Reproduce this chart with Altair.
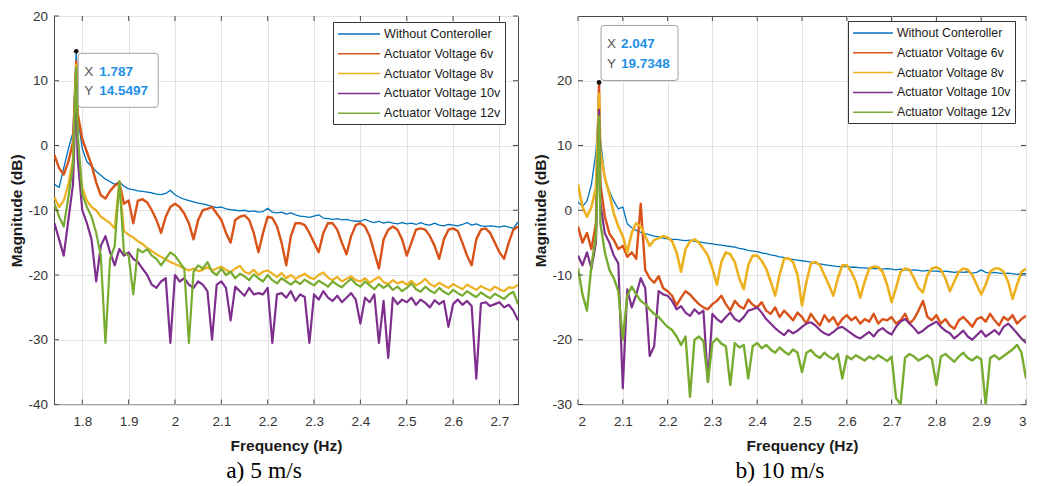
import altair as alt
import pandas as pd

SERIES = ["Without Conteroller", "Actuator Voltage 6v", "Actuator Voltage 8v",
          "Actuator Voltage 10v", "Actuator Voltage 12v"]
COLORS = ["#0072BD", "#D95319", "#EDB120", "#7E2F8E", "#77AC30"]

# ---------------- panel a) 5 m/s ----------------
freq_a = [1.74, 1.75, 1.76, 1.77, 1.78, 1.787,
          1.79, 1.80, 1.81, 1.82, 1.83, 1.84, 1.85, 1.86, 1.87, 1.88, 1.89,
          1.90, 1.91, 1.92, 1.93, 1.94, 1.95, 1.96, 1.97, 1.98, 1.99,
          2.00, 2.01, 2.02, 2.03, 2.04, 2.05, 2.06, 2.07, 2.08, 2.09,
          2.10, 2.11, 2.12, 2.13, 2.14, 2.15, 2.16, 2.17, 2.18, 2.19,
          2.20, 2.21, 2.22, 2.23, 2.24, 2.25, 2.26, 2.27, 2.28, 2.29,
          2.30, 2.31, 2.32, 2.33, 2.34, 2.35, 2.36, 2.37, 2.38, 2.39,
          2.40, 2.41, 2.42, 2.43, 2.44, 2.45, 2.46, 2.47, 2.48, 2.49,
          2.50, 2.51, 2.52, 2.53, 2.54, 2.55, 2.56, 2.57, 2.58, 2.59,
          2.60, 2.61, 2.62, 2.63, 2.64, 2.65, 2.66, 2.67, 2.68, 2.69,
          2.70, 2.71, 2.72, 2.73, 2.74]

without_a = [-6.0, -6.5, -3.5, -0.5, 2.0, 14.5497,
             4.5, -0.5, -2.5, -3.2, -4.0, -4.6, -5.2, -5.6, -6.0, -5.6, -6.3,
             -6.7, -6.8, -7.0, -7.1, -7.2, -7.3, -7.5, -7.6, -7.4, -6.9,
             -7.6, -8.0, -8.3, -8.5, -8.7, -8.9, -9.0, -9.2, -9.4, -9.6,
             -9.5, -9.8, -9.9, -10.0, -10.1, -10.0, -10.2, -10.1, -10.3, -10.2,
             -9.7, -10.3, -10.4, -10.3, -10.6, -10.4, -10.7, -10.9, -11.0, -11.1,
             -10.9, -10.7, -11.2, -11.3, -11.4, -11.3, -11.5, -11.4, -11.6, -11.7,
             -11.7, -11.4, -11.7, -11.9, -11.7, -12.0, -11.8, -12.0, -12.1, -11.9,
             -12.1, -12.0, -12.2, -11.9, -12.2, -12.3, -12.0, -12.3, -12.4, -12.2,
             -12.3, -12.4, -12.2, -11.9, -12.3, -12.1, -12.4, -12.5, -12.4, -12.5,
             -12.6, -12.4, -12.6, -12.8, -11.8]

v6_a = [-1.5, -3.5, -4.5, -2.5, 0.5, 13.0,
        5.0, 1.0, -1.0, -3.0, -5.7, -7.7, -8.2, -7.0, -6.2, -5.7, -9.0,
        -8.5, -12.0, -8.5, -8.3, -8.8, -10.0, -11.5, -13.5, -11.0, -9.5,
        -9.0, -9.5, -10.5, -12.0, -14.5, -11.5, -10.0, -9.8, -9.5, -10.5,
        -11.5, -13.5, -15.0, -11.5, -11.0, -10.8, -11.5, -13.5, -16.5, -13.5,
        -11.0, -11.2, -12.5, -15.0, -18.5, -14.0, -12.0, -12.0, -12.3, -13.5,
        -15.0, -16.5, -13.5, -12.0, -12.0, -13.0, -15.0, -16.8, -14.0, -12.3,
        -12.0, -12.5, -14.0, -16.5, -19.0, -14.5, -13.0, -12.5, -13.0, -14.5,
        -17.0, -15.0, -13.0, -12.8, -13.0, -14.0, -15.5, -17.5, -14.5, -13.0,
        -12.8, -13.2, -15.0, -17.0, -18.5, -14.5, -13.0, -12.8, -13.5, -15.0,
        -16.5, -17.5, -15.0, -13.0, -12.5]

v8_a = [-8.0, -9.5, -8.5, -6.0, -2.0, 12.5,
        0.0, -6.5, -8.5, -9.5, -10.0, -11.0, -11.5, -12.0, -12.8, -5.5, -13.2,
        -13.8, -14.2, -14.8, -15.2, -15.8, -16.3, -16.8, -17.2, -17.6, -18.0,
        -18.3, -18.6, -19.0, -19.3, -19.0, -19.4, -19.2, -18.8, -19.3, -19.0,
        -18.7, -19.2, -19.6, -19.0, -18.6, -19.5, -19.8, -19.2, -20.0, -19.5,
        -19.3, -19.8, -20.3, -19.7, -20.5, -20.0, -20.6, -20.2, -19.8, -20.4,
        -20.6, -20.0, -19.6, -20.4, -20.8, -20.3, -21.0, -20.6, -20.2, -20.8,
        -21.0, -20.5, -21.2, -20.7, -20.3, -21.1, -21.4, -20.8, -21.3, -21.0,
        -21.5, -20.9, -21.6, -21.2, -20.6, -21.4, -21.8, -21.2, -21.6, -22.0,
        -21.4, -21.8, -22.2, -21.5, -21.9, -22.3, -21.7, -22.1, -22.4, -21.8,
        -22.2, -22.5, -21.9, -22.0, -21.5]

v10_a = [-12.0, -14.5, -17.0, -11.5, -6.0, 9.5,
         -2.0, -10.0, -12.0, -14.5, -21.0, -15.5, -14.0, -16.5, -18.5, -16.0, -17.0,
         -16.5, -17.5, -18.0, -19.0, -20.0, -21.5, -22.0, -21.0, -20.5, -30.5,
         -20.0, -21.0, -20.5, -21.5, -22.0, -21.0, -21.5, -22.5, -30.0, -21.5,
         -21.0, -22.0, -27.0, -21.8, -22.5, -23.2, -22.0, -23.0, -22.8, -23.0,
         -22.0, -30.5, -23.0, -22.8, -23.5, -22.5, -24.0, -23.0, -23.4, -30.5,
         -23.0, -23.8, -22.5, -23.5, -24.0, -23.2, -24.2, -23.5, -22.8, -23.8,
         -27.5, -23.5, -24.2, -23.0, -30.5, -24.0, -32.8, -23.5, -24.5, -23.8,
         -24.2, -23.5, -24.6, -23.8, -24.3, -25.0, -23.9, -24.5, -24.0, -28.0,
         -24.5, -23.8, -24.6, -24.0, -24.8, -36.0, -24.4, -24.2, -24.8, -24.5,
         -24.2, -25.0, -24.6, -25.5, -27.0]

v12_a = [-9.0, -11.0, -12.5, -8.0, -3.0, 12.0,
         2.0, -7.5, -9.5, -11.0, -13.5, -17.0, -30.5, -17.5, -15.5, -5.5, -16.5,
         -17.0, -23.0, -16.0, -16.5, -16.0, -17.0, -17.5, -18.5, -17.5, -16.5,
         -17.0, -18.0, -19.0, -30.5, -19.5, -18.5, -19.0, -18.0, -19.5, -20.0,
         -19.0, -20.0, -19.5, -20.5, -19.8, -20.2, -20.8, -19.9, -20.5, -21.0,
         -20.0, -20.8, -21.3, -20.5, -21.0, -21.5, -20.9, -21.4, -20.7, -21.2,
         -21.6, -20.9, -21.3, -21.8, -21.0, -21.5, -21.9, -21.2, -20.6, -21.4,
         -21.8, -21.0, -21.6, -22.2, -21.4, -22.0, -21.5, -22.3, -21.8, -22.5,
         -22.0, -21.3, -22.2, -22.6, -21.8, -22.4, -22.8, -22.0, -22.6, -23.0,
         -22.3, -22.8, -23.2, -22.5, -23.0, -23.4, -22.7, -23.2, -23.6, -22.9,
         -23.3, -23.7, -23.0, -22.6, -24.5]

# ---------------- panel b) 10 m/s ----------------
freq_b = [2.00, 2.01, 2.02, 2.03, 2.04, 2.047,
          2.05, 2.06, 2.07, 2.08, 2.09,
          2.10, 2.11, 2.12, 2.13, 2.14, 2.15, 2.16, 2.17, 2.18, 2.19,
          2.20, 2.21, 2.22, 2.23, 2.24, 2.25, 2.26, 2.27, 2.28, 2.29,
          2.30, 2.31, 2.32, 2.33, 2.34, 2.35, 2.36, 2.37, 2.38, 2.39,
          2.40, 2.41, 2.42, 2.43, 2.44, 2.45, 2.46, 2.47, 2.48, 2.49,
          2.50, 2.51, 2.52, 2.53, 2.54, 2.55, 2.56, 2.57, 2.58, 2.59,
          2.60, 2.61, 2.62, 2.63, 2.64, 2.65, 2.66, 2.67, 2.68, 2.69,
          2.70, 2.71, 2.72, 2.73, 2.74, 2.75, 2.76, 2.77, 2.78, 2.79,
          2.80, 2.81, 2.82, 2.83, 2.84, 2.85, 2.86, 2.87, 2.88, 2.89,
          2.90, 2.91, 2.92, 2.93, 2.94, 2.95, 2.96, 2.97, 2.98, 2.99,
          3.00]

without_b = [1.3, 0.6, 1.4, 4.0, 9.0, 17.0,
             11.0, 5.0, 2.9, 1.4, 0.2,
             0.5, -2.1, -2.7, -3.1, -3.4, -3.6, -3.8, -4.0, -4.1, -4.3,
             -4.4, -4.5, -4.5, -4.6, -4.7, -4.6, -4.8, -4.9, -5.0, -5.1,
             -5.2, -5.3, -5.4, -5.5, -5.6, -5.7, -5.9, -6.0, -6.2, -6.3,
             -6.4, -6.6, -6.7, -6.9, -7.0, -7.2, -7.3, -7.5, -7.6, -7.7,
             -7.8, -7.9, -8.0, -8.2, -8.3, -8.4, -8.5, -8.6, -8.7, -8.7,
             -8.7, -8.8, -8.8, -8.9, -8.9, -9.0, -9.0, -9.0, -9.1, -9.0,
             -9.1, -9.2, -9.1, -9.2, -9.3, -9.2, -9.3, -9.4, -9.3, -9.4,
             -9.4, -9.5, -9.4, -9.5, -9.6, -9.5, -9.6, -9.5, -9.7, -9.6,
             -9.2, -9.6, -9.7, -9.6, -9.7, -9.8, -9.7, -9.8, -9.9, -9.8,
             -9.8]

v6_b = [-2.5, -5.0, -3.5, -6.0, -2.0, 19.7348,
        4.0, -1.0, -3.6, -4.6, -6.0,
        -5.5, -7.2, -6.5, -7.5, 1.0, -9.2, -10.5, -11.2, -10.2, -12.0,
        -12.5, -13.2, -14.7, -13.5, -12.5, -13.0, -13.8, -14.5, -15.0, -15.3,
        -14.5, -14.0, -13.2, -14.5, -15.5, -14.0, -14.8, -15.2, -13.8, -14.6,
        -15.0, -14.2, -15.5, -16.0, -15.0, -16.5, -15.5, -16.2, -17.0, -15.8,
        -16.5, -17.5, -16.0, -17.0, -17.8, -16.2, -17.2, -16.5, -17.8, -16.8,
        -16.2, -17.0, -16.5, -17.5, -16.8, -17.2, -16.0, -17.5, -16.8, -17.0,
        -16.5, -17.5, -17.0, -16.0, -17.5, -16.8, -15.5, -14.0, -16.5, -17.0,
        -16.2, -17.5, -16.8, -17.8, -18.3, -17.0, -16.5, -17.2, -18.0, -16.8,
        -16.5, -17.2, -16.0, -17.0, -17.8, -16.5, -17.0, -16.2, -17.5, -16.8,
        -16.3]

v8_b = [4.0, 0.5, -1.0, 0.5, 3.5, 18.0,
        9.0, 5.0, 2.5, -0.5, -2.5,
        -4.0, -6.5, -3.5, -2.0, -2.5, -4.0, -5.5, -4.6, -4.3, -4.0,
        -4.2, -4.8, -6.5, -9.5, -6.0, -4.8, -4.5, -5.0, -6.0, -7.0,
        -9.0, -11.5, -8.0, -6.5, -6.8, -8.0, -10.5, -12.2, -8.5, -7.0,
        -7.0, -7.8, -9.0, -11.0, -13.2, -10.0, -7.5, -7.4, -8.0, -10.0,
        -14.7, -11.0, -8.2, -8.0, -8.5, -10.0, -11.5, -13.2, -10.5, -8.5,
        -8.5, -9.5, -11.0, -13.5, -11.0, -9.0, -8.7, -8.8, -9.5, -11.5,
        -14.2, -12.0, -9.5, -9.0, -9.2, -10.5, -12.0, -12.7, -10.0, -9.0,
        -8.8, -9.2, -10.5, -12.5, -11.0, -9.5, -9.0, -9.2, -10.0, -11.5,
        -13.0, -11.5, -9.5, -9.0, -9.0, -9.5, -11.0, -13.7, -11.5, -9.5,
        -9.0]

v10_b = [-7.0, -8.5, -6.5, -9.0, -5.0, 15.5,
         1.0, -3.6, -5.0, -7.0, -8.2,
         -27.5, -12.2, -15.0, -13.0, -10.5, -12.0, -22.5, -21.0, -12.5, -13.0,
         -13.2, -14.0, -15.3, -14.8, -15.8, -16.3, -15.3, -16.0, -15.5, -26.5,
         -16.0, -16.8, -17.3, -16.5, -15.8, -16.8, -17.2, -16.5, -15.5, -15.3,
         -15.0, -15.8, -16.8, -17.5, -18.2, -18.8, -19.3, -18.5, -19.0, -18.6,
         -18.0, -17.5, -17.3, -17.8, -18.5, -19.0, -19.3, -18.8, -18.2, -18.0,
         -18.5, -19.0, -19.5, -19.8, -19.3, -18.8, -19.5, -18.6, -18.2, -18.8,
         -19.2, -18.0, -17.2, -16.8, -17.5, -18.2, -19.0, -18.6, -18.0, -17.6,
         -17.2, -18.0, -18.6, -19.0, -19.8, -19.2, -18.6, -19.5, -20.0, -19.3,
         -18.6, -19.5, -19.0, -18.5, -19.2, -18.0, -17.5, -18.2, -19.0, -19.8,
         -20.5]

v12_b = [-9.0, -13.0, -15.5, -8.5, -4.0, 14.5,
         -2.0, -6.5, -9.2, -10.5, -12.5,
         -20.0, -13.2, -11.8, -13.0, -14.0, -14.5, -15.3, -16.0, -16.5, -17.3,
         -18.0, -18.5, -19.5, -20.8, -19.5, -28.8, -20.0, -19.5, -20.2, -26.5,
         -20.5, -19.8, -20.6, -21.0, -27.0, -20.5, -21.2, -20.8, -26.0, -21.0,
         -20.5, -21.3, -20.8, -21.5, -22.0, -21.2, -21.8, -22.3, -21.5, -22.0,
         -25.0, -22.0, -21.6, -22.4, -22.8, -22.0, -22.6, -23.0, -22.2, -26.0,
         -22.5, -23.0, -22.4, -22.8, -23.2, -22.6, -23.0, -22.4, -22.8, -23.3,
         -22.6, -29.0, -30.0, -22.8, -22.2, -22.6, -23.2, -22.8, -22.4, -23.0,
         -27.0, -22.6, -22.2, -22.8, -23.4, -22.6, -22.0, -22.8, -23.2, -22.6,
         -23.0, -30.0, -22.8, -22.4, -23.0, -22.5, -22.0, -21.5, -20.8, -22.0,
         -26.0]

x_ticks_a = [1.8, 1.9, 2.0, 2.1, 2.2, 2.3, 2.4, 2.5, 2.6, 2.7]
y_ticks_a = [-40, -30, -20, -10, 0, 10, 20]
x_ticks_b = [2.0, 2.1, 2.2, 2.3, 2.4, 2.5, 2.6, 2.7, 2.8, 2.9, 3.0]
y_ticks_b = [-30, -20, -10, 0, 10, 20]

peak_a = [1.787, 14.5497]
peak_b = [2.047, 19.7348]
captions = ["a) 5 m/s", "b) 10 m/s"]

FONT = "Liberation Sans"
FRAME = "#4a4a4a"


def rrect(x0, y0, x1, y1, r=3.0):
    # path in pixels (symbol size 4 -> scale 1)
    return (f"M{x0 + r},{y0}H{x1 - r}Q{x1},{y0} {x1},{y0 + r}"
            f"V{y1 - r}Q{x1},{y1} {x1 - r},{y1}H{x0 + r}"
            f"Q{x0},{y1} {x0},{y1 - r}V{y0 + r}Q{x0},{y0} {x0 + r},{y0}Z")


def panel(freq, vals, widths, xdom, ydom, xticks, yticks, peak, caption,
          W, H, lx, ly, lfont, lsym, loff, box, tx, ty):
    xs = alt.Scale(domain=xdom, nice=False, zero=False)
    ys = alt.Scale(domain=ydom, nice=False, zero=False)
    xaxis = alt.Axis(title="Frequency (Hz)", values=xticks, format="~g", grid=True,
                     ticks=False, domain=False, labelPadding=10, titlePadding=10)
    yaxis = alt.Axis(title="Magnitude (dB)", values=yticks, labelExpr="'' + datum.value",
                     grid=True, ticks=False, domain=False, labelPadding=6.5,
                     titleX=-30, titleY=H / 2)
    legend = alt.Legend(title=None, orient="none", legendX=lx, legendY=ly,
                        symbolType=lsym, symbolSize=196, symbolStrokeWidth=1.5,
                        symbolOpacity=1, symbolFillColor="transparent",
                        labelFont=FONT, labelFontSize=lfont,
                        labelColor="#1a1a1a", strokeColor="#333333", fillColor="white",
                        padding=4, rowPadding=4.8, labelOffset=loff, cornerRadius=0)
    color = alt.Color("s:N", scale=alt.Scale(domain=SERIES, range=COLORS), legend=legend)
    ex = alt.X("f:Q", scale=xs, axis=xaxis)
    ey = alt.Y("m:Q", scale=ys, axis=yaxis)
    layers = []
    for name, v, sw in zip(SERIES, vals, widths):
        df = pd.DataFrame({"f": freq, "m": v, "s": [name] * len(freq)})
        layers.append(
            alt.Chart(df).mark_line(strokeWidth=sw, clip=True, strokeJoin="round").encode(
                x=ex, y=ey, color=color))
    tdx = pd.DataFrame({"f": xticks})
    tdy = pd.DataFrame({"m": yticks})
    rk = dict(color=FRAME, strokeWidth=1)
    ticks = [
        alt.Chart(tdx).mark_rule(**rk).encode(x=ex, y=alt.value(0), y2=alt.value(5)),
        alt.Chart(tdx).mark_rule(**rk).encode(x=ex, y=alt.value(H), y2=alt.value(H - 5)),
        alt.Chart(tdy).mark_rule(**rk).encode(y=ey, x=alt.value(0), x2=alt.value(5)),
        alt.Chart(tdy).mark_rule(**rk).encode(y=ey, x=alt.value(W), x2=alt.value(W - 5)),
    ]
    pk = pd.DataFrame({"f": [peak[0]], "m": [peak[1]], "xl": ["X"], "yl": ["Y"],
                       "xv": [str(peak[0])], "yv": [str(peak[1])]})
    boxm = alt.Chart(pk).mark_point(shape=rrect(*box), size=4, filled=True,
                                    fill="white", fillOpacity=1, stroke="#a0a0a0",
                                    strokeWidth=1, strokeOpacity=1, opacity=1).encode(x=ex, y=ey)
    dot = alt.Chart(pk).mark_circle(size=22, color="#111111", opacity=1).encode(x=ex, y=ey)
    tk = dict(align="left", baseline="middle", font=FONT, fontSize=13.5)
    texts = [
        alt.Chart(pk).mark_text(dx=tx[0], dy=ty[0], color="#555555", **tk).encode(x=ex, y=ey, text="xl:N"),
        alt.Chart(pk).mark_text(dx=tx[1], dy=ty[0], color="#1e90e8", fontWeight="bold", **tk).encode(x=ex, y=ey, text="xv:N"),
        alt.Chart(pk).mark_text(dx=tx[0], dy=ty[1], color="#555555", **tk).encode(x=ex, y=ey, text="yl:N"),
        alt.Chart(pk).mark_text(dx=tx[1], dy=ty[1], color="#1e90e8", fontWeight="bold", **tk).encode(x=ex, y=ey, text="yv:N"),
    ]
    return alt.layer(*layers, *ticks, boxm, dot, *texts).properties(
        width=W, height=H,
        title=alt.TitleParams(caption, orient="bottom", anchor="middle",
                              font="Liberation Serif", fontSize=23.5, fontWeight="normal",
                              color="#000000", dx=-22, offset=5))


H = 388.5
pa = panel(freq_a, [without_a, v6_a, v8_a, v10_a, v12_a], [1.3, 2.4, 2.2, 2.2, 2.2],
           [1.739, 2.74], [-40, 20], x_ticks_a, y_ticks_a, peak_a, captions[0],
           464, H, 279, 6, 12.6, "M-1,0H5", 31, (2, 2, 82, 56), (8, 23), (20.7, 39.7))
pb = panel(freq_b, [without_b, v6_b, v8_b, v10_b, v12_b], [1.3, 2.4, 2.6, 2.2, 2.4],
           [2.0, 3.0], [-30, 30], x_ticks_b, y_ticks_b, peak_b, captions[1],
           448, H, 270, 5, 12.3, "M-1,0H4.7", 29, (2, -57, 79, -2), (8, 22), (-38, -18))

chart = (alt.hconcat(pa, pb, spacing=13)
         .resolve_scale(color="independent")
         .properties(padding=0, background="white")
         .configure_view(stroke=FRAME, strokeWidth=1)
         .configure_axis(labelFont=FONT, labelFontSize=13.5, labelColor="#333333",
                         titleFont=FONT, titleFontSize=15.5, titleFontWeight="bold",
                         titleColor="#1a1a1a", gridColor="#e2e2e2", gridWidth=1))

chart.save("out.html", embed_options={"renderer": "svg", "actions": False})
